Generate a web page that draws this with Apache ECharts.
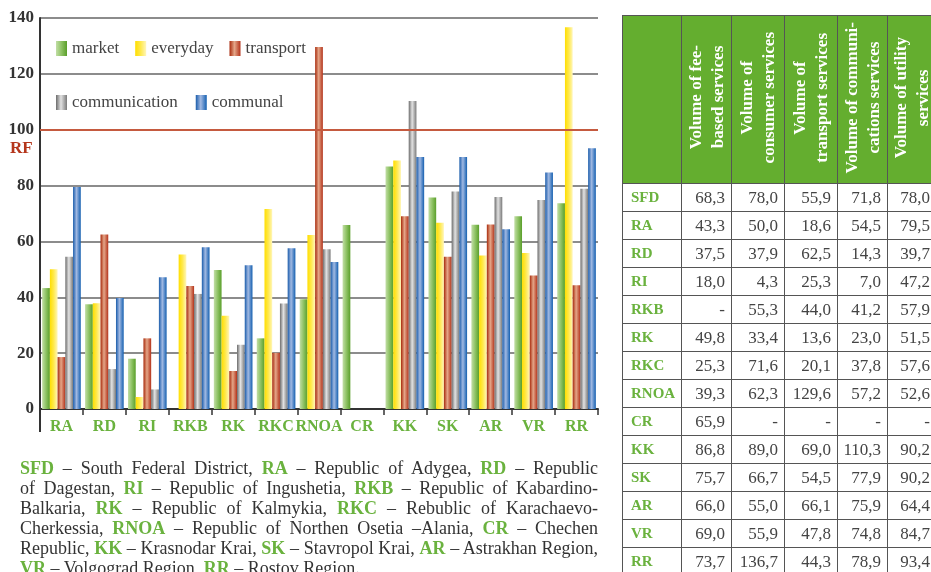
<!DOCTYPE html>
<html>
<head>
<meta charset="utf-8">
<script src="https://cdn.jsdelivr.net/npm/echarts@6/dist/echarts.min.js"></script>
<style>
  html, body { margin: 0; padding: 0; width: 931px; height: 572px; overflow: hidden; background: #fff; }
  #chart { position: absolute; left: 0; top: 0; width: 931px; height: 572px; }
  #tbl {
    position: absolute; left: 622px; top: 15px; width: 314px;
    border-collapse: collapse; table-layout: fixed;
    font-family: 'Liberation Serif', serif;
  }
  #tbl th, #tbl td { border: 1.5px solid #555; padding: 0; }
  #tbl th { background: #64ae2f; height: 167px; text-align: center; vertical-align: middle; }
  #tbl th div {
    display: inline-block; writing-mode: vertical-rl; transform: rotate(180deg);
    color: #fff; font-weight: bold; font-size: 17px; line-height: 22px; text-align: center;
  }
  #tbl td { height: 27px; font-size: 17px; color: #444; text-align: right; padding-right: 6px; white-space: nowrap; }
  #tbl td.lab { text-align: left; padding-left: 8px; padding-right: 0; color: #6ab23e; font-weight: bold; font-size: 15px; }
  #note {
    position: absolute; left: 20px; top: 458px; width: 578px;
    font-family: 'Liberation Serif', serif; font-size: 18px; line-height: 20px; color: #333;
  }
  #note div { text-align: justify; text-align-last: justify; white-space: nowrap; }
  #note div.tight { word-spacing: -2px; }
  #note div.last { text-align-last: left; }
  #note b { color: #6ab23e; }
</style>
</head>
<body>
<div id="chart"></div>
<table id="tbl"></table>
<div id="note">
  <div><b>SFD</b> – South Federal District, <b>RA</b> – Republic of Adygea, <b>RD</b> – Republic</div>
  <div>of Dagestan, <b>RI</b> – Republic of Ingushetia, <b>RKB</b> – Republic of Kabardino-</div>
  <div>Balkaria, <b>RK</b> – Republic of Kalmykia, <b>RKC</b> – Rebublic of Karachaevo-</div>
  <div>Cherkessia, <b>RNOA</b> – Republic of Northen Osetia –Alania, <b>CR</b> – Chechen</div>
  <div class="tight">Republic, <b>KK</b> – Krasnodar Krai, <b>SK</b> – Stavropol Krai, <b>AR</b> – Astrakhan Region,</div>
  <div class="last"><b>VR</b> – Volgograd Region, <b>RR</b> – Rostov Region.</div>
</div>
<script>
// Regions on the x axis (SFD appears only in the table)
const regions = ['RA', 'RD', 'RI', 'RKB', 'RK', 'RKC', 'RNOA', 'CR', 'KK', 'SK', 'AR', 'VR', 'RR'];

// Index values, RF = 100 (null = no data, "-" in the table)
const market        = [43.3, 37.5, 18.0, null, 49.8, 25.3, 39.3, 65.9, 86.8, 75.7, 66.0, 69.0, 73.7];
const everyday      = [50.0, 37.9, 4.3, 55.3, 33.4, 71.6, 62.3, null, 89.0, 66.7, 55.0, 55.9, 136.7];
const transport     = [18.6, 62.5, 25.3, 44.0, 13.6, 20.1, 129.6, null, 69.0, 54.5, 66.1, 47.8, 44.3];
const communication = [54.5, 14.3, 7.0, 41.2, 23.0, 37.8, 57.2, null, 110.3, 77.9, 75.9, 74.8, 78.9];
const communal      = [79.5, 39.7, 47.2, 57.9, 51.5, 57.6, 52.6, null, 90.2, 90.2, 64.4, 84.7, 93.4];

// South Federal District row of the table (same column order)
const sfdLabel = 'SFD';
const sfd = [68.3, 78.0, 55.9, 71.8, 78.0];

// Table header texts (two lines each)
const tableHeaders = [
  ['Volume of fee-', 'based services'],
  ['Volume of', 'consumer services'],
  ['Volume of', 'transport services'],
  ['Volume of communi-', 'cations services'],
  ['Volume of utility', 'services'],
];

const RF_LEVEL = 100;
const SERIF = "'Liberation Serif', serif";

// ---- table ----
(function buildTable() {
  const tbl = document.getElementById('tbl');
  const widths = [59, 50, 53, 53, 50, 49];
  let html = '<colgroup>' + widths.map(w => `<col style="width:${w}px">`).join('') + '</colgroup>';
  html += '<tr><th></th>' + tableHeaders.map(h => `<th><div>${h.join('<br>')}</div></th>`).join('') + '</tr>';
  const fmt = v => (v == null ? '-' : v.toFixed(1).replace('.', ','));
  const cols = [market, everyday, transport, communication, communal];
  const rows = [[sfdLabel, sfd]].concat(regions.map((r, i) => [r, cols.map(c => c[i])]));
  rows.forEach(([lab, vals]) => {
    html += `<tr><td class="lab">${lab}</td>` + vals.map(v => `<td>${fmt(v)}</td>`).join('') + '</tr>';
  });
  tbl.innerHTML = html;
})();

// ---- chart ----
function grad(stops) {
  return new echarts.graphic.LinearGradient(0, 0, 1, 0,
    stops.map(([offset, color]) => ({ offset, color })));
}

const SERIES = [
  { name: 'market',        data: market,        color: grad([[0, '#c2dea6'], [0.45, '#93c56a'], [1, '#5a9f2a']]) },
  { name: 'everyday',      data: everyday,      color: grad([[0, '#ffde00'], [0.5, '#ffe94d'], [1, '#fff6bb']]) },
  { name: 'transport',     data: transport,     color: grad([[0, '#a82a0c'], [0.45, '#e4a688'], [1, '#b3321a']]) },
  { name: 'communication', data: communication, color: grad([[0, '#6c6c6c'], [0.45, '#e2e2e2'], [1, '#7a7a7a']]) },
  { name: 'communal',      data: communal,      color: grad([[0, '#1a5cab'], [0.45, '#a1b9e2'], [1, '#145fb0']]) },
];

const chart = echarts.init(document.getElementById('chart'), null, { renderer: 'canvas' });

const legendCommon = {
  orient: 'horizontal',
  padding: 0,
  itemWidth: 11,
  itemHeight: 15,
  icon: 'rect',
  textStyle: { fontFamily: SERIF, fontSize: 17, color: '#444' },
};

chart.setOption({
  animation: false,
  backgroundColor: '#fff',
  grid: { left: 40, right: 333, top: 18, bottom: 163, containLabel: false },
  legend: [
    Object.assign({ left: 56, top: 40, itemGap: 16, data: ['market', 'everyday', 'transport'] }, legendCommon),
    Object.assign({ left: 56, top: 94, itemGap: 18, data: ['communication', 'communal'] }, legendCommon),
  ],
  xAxis: {
    type: 'category',
    data: regions,
    axisLine: { lineStyle: { color: '#333', width: 2 } },
    axisTick: { show: true, interval: 0, length: 6, lineStyle: { color: '#333', width: 1.5 } },
    axisLabel: { interval: 0, margin: 10, fontFamily: SERIF, fontSize: 16, fontWeight: 'bold', color: '#6ab23e' },
  },
  yAxis: {
    type: 'value',
    min: 0, max: 140, interval: 20,
    axisLine: { show: true, lineStyle: { color: '#333', width: 2 } },
    axisTick: { show: false },
    axisLabel: { margin: 6, fontFamily: SERIF, fontSize: 17, fontWeight: 'bold', color: '#333' },
    splitLine: { lineStyle: { color: '#8c8c8c', width: 2 } },
  },
  graphic: [
    { type: 'line', shape: { x1: 40, y1: 409, x2: 40, y2: 432 }, style: { stroke: '#333', lineWidth: 2 } },
    { type: 'text', left: 10, top: 140, style: { text: 'RF', fill: '#b5361c', font: "bold 17px 'Liberation Serif', serif" } },
  ],
  series: [
    {
      name: 'RF', type: 'line', data: [], z: 1, silent: true,
      markLine: {
        silent: true, symbol: 'none', animation: false,
        label: { show: false },
        lineStyle: { color: '#c55a3f', width: 2, type: 'solid' },
        data: [{ yAxis: RF_LEVEL }],
      },
    },
  ].concat(SERIES.map(s => ({
    name: s.name,
    type: 'bar',
    data: s.data,
    z: 2,
    barGap: '0%',
    barCategoryGap: '10%',
    itemStyle: { color: s.color },
  }))),
});
</script>
</body>
</html>
